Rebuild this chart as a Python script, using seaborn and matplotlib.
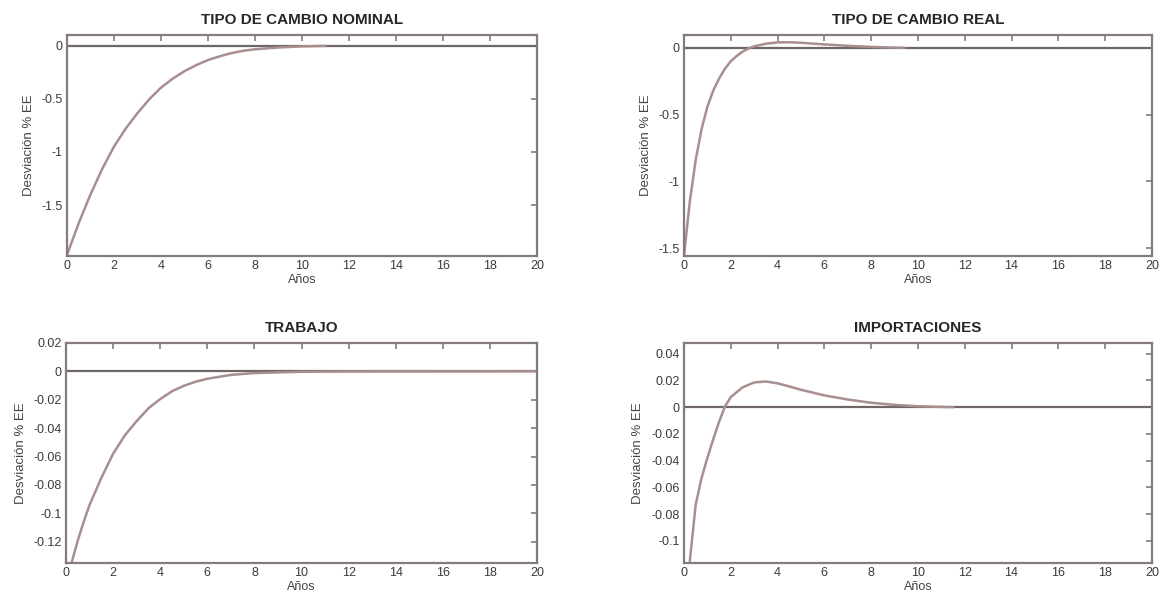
import numpy as np
import pandas as pd
import matplotlib
matplotlib.use("Agg")
import matplotlib.pyplot as plt
import seaborn as sns

# impulse responses (x in years)
tcn_x = [0, 0.5, 1, 1.5, 2, 2.5, 3, 3.5, 4, 4.5, 5, 5.5, 6, 6.5, 7, 7.5, 8, 9, 10, 11]
tcn_y = [-1.97, -1.67, -1.40, -1.16, -0.95, -0.78, -0.635, -0.505, -0.395, -0.31, -0.24,
         -0.183, -0.135, -0.10, -0.07, -0.048, -0.034, -0.017, -0.007, -0.002]

tcr_x = [0, 0.25, 0.5, 0.75, 1, 1.25, 1.5, 1.75, 2, 2.25, 2.5, 2.75, 3, 3.5, 4, 4.5,
         5, 6, 7, 8, 9, 9.4]
tcr_y = [-1.56, -1.15, -0.84, -0.61, -0.44, -0.32, -0.23, -0.155, -0.10, -0.06, -0.028,
         -0.004, 0.012, 0.032, 0.042, 0.043, 0.039, 0.027, 0.016, 0.008, 0.003, 0.001]

trab_x = [0.25, 0.5, 0.75, 1, 1.5, 2, 2.5, 3, 3.5, 4, 4.5, 5, 5.5, 6, 7, 8, 10, 12, 20]
trab_y = [-0.134, -0.119, -0.106, -0.094, -0.075, -0.058, -0.045, -0.035, -0.026, -0.0195,
          -0.014, -0.0102, -0.0073, -0.0052, -0.0025, -0.0012, -0.0003, -0.0001, 0.0]

imp_x = [0.25, 0.5, 0.75, 1, 1.25, 1.5, 1.75, 2, 2.5, 3, 3.5, 4, 4.5, 5, 6, 7, 8, 9,
         10, 11, 11.5]
imp_y = [-0.115, -0.073, -0.053, -0.038, -0.024, -0.011, 0.0005, 0.0075, 0.0148, 0.0185,
         0.0192, 0.0178, 0.0155, 0.013, 0.0088, 0.0057, 0.0033, 0.0017, 0.0007, 0.0002, 0.0]

titles = ["TIPO DE CAMBIO NOMINAL", "TIPO DE CAMBIO REAL", "TRABAJO", "IMPORTACIONES"]
xticks = list(range(0, 21, 2))

sns.set_style("white")
plt.rcParams['font.family'] = ['Liberation Sans', 'DejaVu Sans']

frame_col = "#857b7b"
curve_col = "#a88f8f"
zero_col = "#6f6767"

panels = [
    (tcn_x, tcn_y, (-1.98, 0.10), [-1.5, -1, -0.5, 0], [0.0574, 0.5733, 0.4028, 0.3683]),
    (tcr_x, tcr_y, (-1.56, 0.097), [-1.5, -1, -0.5, 0], [0.5861, 0.5733, 0.4010, 0.3683]),
    (trab_x, trab_y, (-0.135, 0.02), [-0.12, -0.1, -0.08, -0.06, -0.04, -0.02, 0, 0.02],
     [0.0566, 0.0617, 0.4036, 0.3667]),
    (imp_x, imp_y, (-0.1165, 0.048), [-0.1, -0.08, -0.06, -0.04, -0.02, 0, 0.02, 0.04],
     [0.5861, 0.0617, 0.4010, 0.3667]),
]

fig = plt.figure(figsize=(11.67, 6), dpi=100)

for (x, y, ylim, yt, pos), title in zip(panels, titles):
    ax = fig.add_axes(pos)
    df = pd.DataFrame({"x": x, "y": y})
    ax.axhline(0, color=zero_col, lw=1.6, zorder=1)
    sns.lineplot(data=df, x="x", y="y", ax=ax, color=curve_col, lw=1.8, zorder=2)
    ax.set_xlim(0, 20)
    ax.set_ylim(*ylim)
    ax.set_xticks(xticks)
    ax.set_yticks(yt)
    ax.set_yticklabels([f"{v:g}" for v in yt])
    ax.tick_params(direction="in", length=4, width=1.2, color=frame_col,
                   labelsize=9, labelcolor="#3a3a3a", top=True, right=True, pad=3)
    for s in ax.spines.values():
        s.set_color(frame_col)
        s.set_linewidth(1.6)
    ax.set_title(title, fontsize=11, fontweight="bold", pad=8)
    ax.set_xlabel("Años", fontsize=9, color="#444444", labelpad=1)
    ax.set_ylabel("Desviación % EE", fontsize=9.5, color="#444444", labelpad=5)

fig.savefig("out.png", dpi=100)
